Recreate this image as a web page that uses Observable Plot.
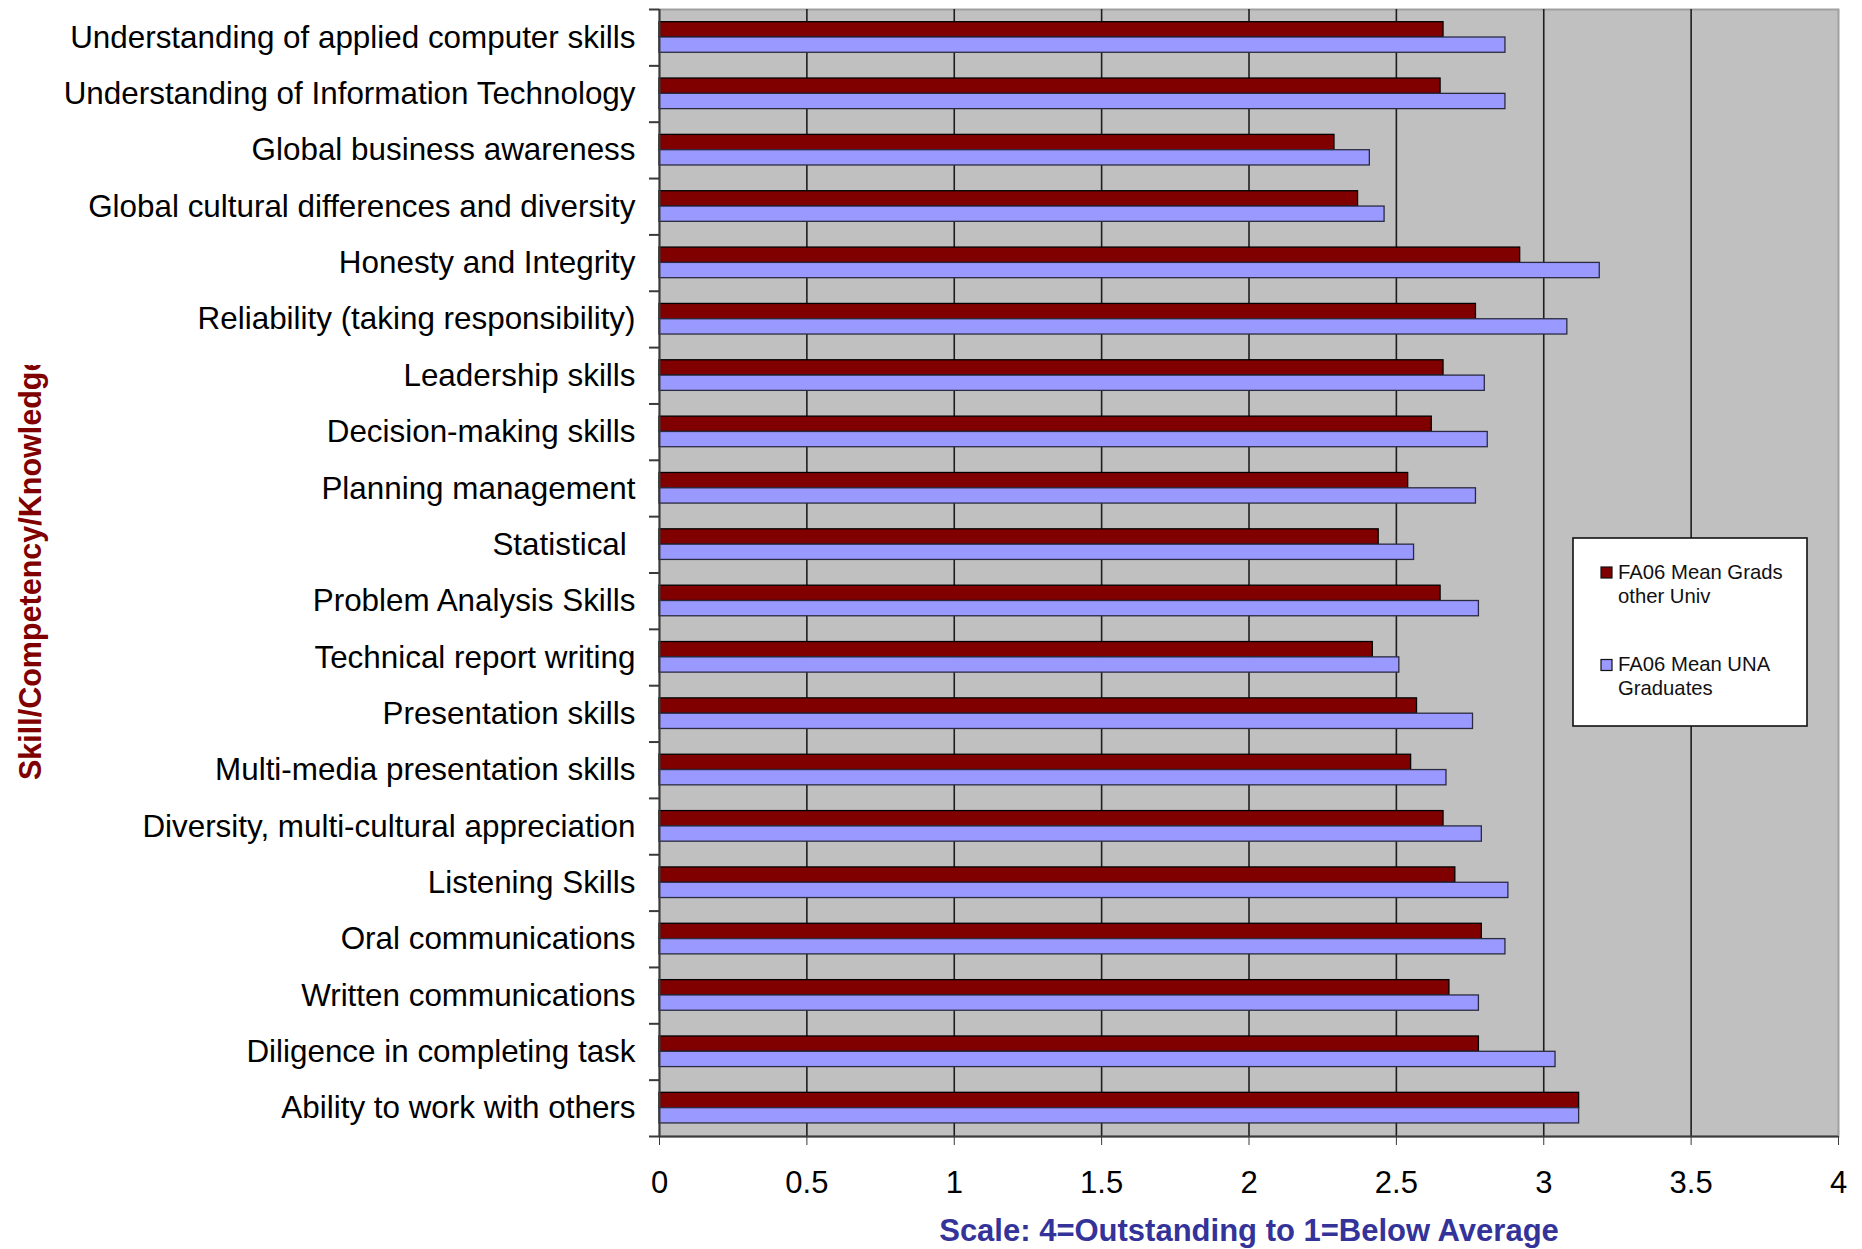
<!DOCTYPE html>
<html>
<head>
<meta charset="utf-8">
<script src="https://cdn.jsdelivr.net/npm/d3@7"></script>
<script src="https://cdn.jsdelivr.net/npm/@observablehq/plot@0.6"></script>
<style>
  html, body { margin: 0; padding: 0; background: #ffffff; }
  #chart svg { display: block; }
</style>
</head>
<body>
<div id="chart"></div>
<script>
// ---------- data ----------
const categories = [
  "Understanding of applied computer skills",
  "Understanding of Information Technology",
  "Global business awareness",
  "Global cultural differences and diversity",
  "Honesty and Integrity",
  "Reliability (taking responsibility)",
  "Leadership skills",
  "Decision-making skills",
  "Planning management",
  "Statistical\u00a0",
  "Problem Analysis Skills",
  "Technical report writing",
  "Presentation skills",
  "Multi-media presentation skills",
  "Diversity, multi-cultural appreciation",
  "Listening Skills",
  "Oral communications",
  "Written communications",
  "Diligence in completing task",
  "Ability to work with others"
];
const gradsOtherUniv = [2.66, 2.65, 2.29, 2.37, 2.92, 2.77, 2.66, 2.62, 2.54, 2.44,
                        2.65, 2.42, 2.57, 2.55, 2.66, 2.70, 2.79, 2.68, 2.78, 3.12];
const unaGraduates   = [2.87, 2.87, 2.41, 2.46, 3.19, 3.08, 2.80, 2.81, 2.77, 2.56,
                        2.78, 2.51, 2.76, 2.67, 2.79, 2.88, 2.87, 2.78, 3.04, 3.12];
const seriesNames = ["FA06 Mean Grads\nother Univ", "FA06 Mean UNA\nGraduates"];
const xTicks = [0, 0.5, 1, 1.5, 2, 2.5, 3, 3.5, 4];
const gridTicks = [0.5, 1, 1.5, 2, 2.5, 3, 3.5];
const xLabel = "Scale: 4=Outstanding to 1=Below Average";
const yLabel = "Skill/Competency/Knowledge";

// ---------- styles / layout ----------
const seriesColors = ["#800000", "#9999FF"];
const seriesStrokes = ["#000000", "#2b2b40"];
const W = 1862, H = 1249;
const mL = 659, mR = 24, mT = 9, mB = 113;
const bw = (H - mT - mB) / categories.length;
const font = "Arial, 'Liberation Sans', sans-serif";

const rows0 = categories.map((c, i) => ({category: c, value: gradsOtherUniv[i]}));
const rows1 = categories.map((c, i) => ({category: c, value: unaGraduates[i]}));

function yTitle() {
  const g = d3.create("svg:g");
  g.append("clipPath").attr("id", "ytitle-clip")
    .append("rect").attr("x", 0).attr("y", 365).attr("width", mL).attr("height", H - 365);
  g.append("g").attr("clip-path", "url(#ytitle-clip)")
    .append("text")
    .attr("transform", "translate(41,780) rotate(-90)")
    .attr("font-family", font)
    .attr("font-size", 30.5)
    .attr("font-weight", "bold")
    .attr("fill", "#800000")
    .attr("text-anchor", "start")
    .text(yLabel);
  return g.node();
}

function legend() {
  const g = d3.create("svg:g").attr("font-family", font).attr("text-anchor", "start");
  g.append("rect")
    .attr("x", 1573).attr("y", 538).attr("width", 234).attr("height", 188)
    .attr("fill", "#ffffff").attr("stroke", "#111").attr("stroke-width", 1.6);
  const tops = [567, 659.5];
  seriesNames.forEach((name, i) => {
    g.append("rect")
      .attr("x", 1601).attr("y", tops[i]).attr("width", 11).attr("height", 11)
      .attr("fill", seriesColors[i]).attr("stroke", "#111").attr("stroke-width", 1.2);
    const t = g.append("text").attr("font-size", 20.3).attr("fill", "#111").attr("text-anchor", "start");
    name.split("\n").forEach((line, j) => {
      t.append("tspan").attr("x", 1618).attr("y", tops[i] + 11.5 + j * 24.4).text(line);
    });
  });
  return g.node();
}

const chart = Plot.plot({
  width: W,
  height: H,
  marginLeft: mL,
  marginRight: mR,
  marginTop: mT,
  marginBottom: mB,
  style: {fontFamily: font, fontSize: "31px", background: "#ffffff", color: "#000"},
  x: {domain: [0, 4], axis: null},
  y: {type: "band", domain: categories, padding: 0, round: false, axis: null},
  marks: [
    Plot.frame({fill: "#C0C0C0", stroke: "#a0a0a0", strokeWidth: 2}),
    Plot.gridX(gridTicks, {stroke: "#1e1e1e", strokeOpacity: 1, strokeWidth: 1.6}),
    Plot.barX(rows0, {
      x: "value", y: "category",
      fill: seriesColors[0], stroke: seriesStrokes[0], strokeWidth: 1.3,
      insetTop: bw * 0.225, insetBottom: bw * (1 - 0.497)
    }),
    Plot.barX(rows1, {
      x: "value", y: "category",
      fill: seriesColors[1], stroke: seriesStrokes[1], strokeWidth: 1.3,
      insetTop: bw * 0.497, insetBottom: bw * (1 - 0.768)
    }),
    // left axis line
    Plot.ruleX([0], {stroke: "#3a3a3a", strokeWidth: 2}),
    // category boundary ticks
    Plot.ruleY(categories, {y: d => d, dy: -bw / 2, x1: 0, x2: 0, insetLeft: -10, stroke: "#3a3a3a", strokeWidth: 2}),
    // bottom axis line (+ last boundary tick)
    Plot.ruleY([categories[categories.length - 1]], {y: d => d, dy: bw / 2, x1: 0, x2: 4, insetLeft: -10, stroke: "#3a3a3a", strokeWidth: 2}),
    Plot.axisX(xTicks, {
      anchor: "bottom", tickSize: 9, tickPadding: 25, fontSize: 31,
      tickFormat: d => String(d), label: null, stroke: "#3a3a3a", fill: "#000"
    }),
    Plot.axisY({
      anchor: "left", tickSize: 0, tickPadding: 24, fontSize: 31.4, label: null, fill: "#000"
    }),
    Plot.text([xLabel], {
      text: d => d, frameAnchor: "bottom", dy: 95, lineAnchor: "middle",
      fontSize: 31, fontWeight: "bold", fill: "#333399"
    }),
    yTitle,
    legend
  ]
});

document.getElementById("chart").append(chart);
</script>
</body>
</html>
